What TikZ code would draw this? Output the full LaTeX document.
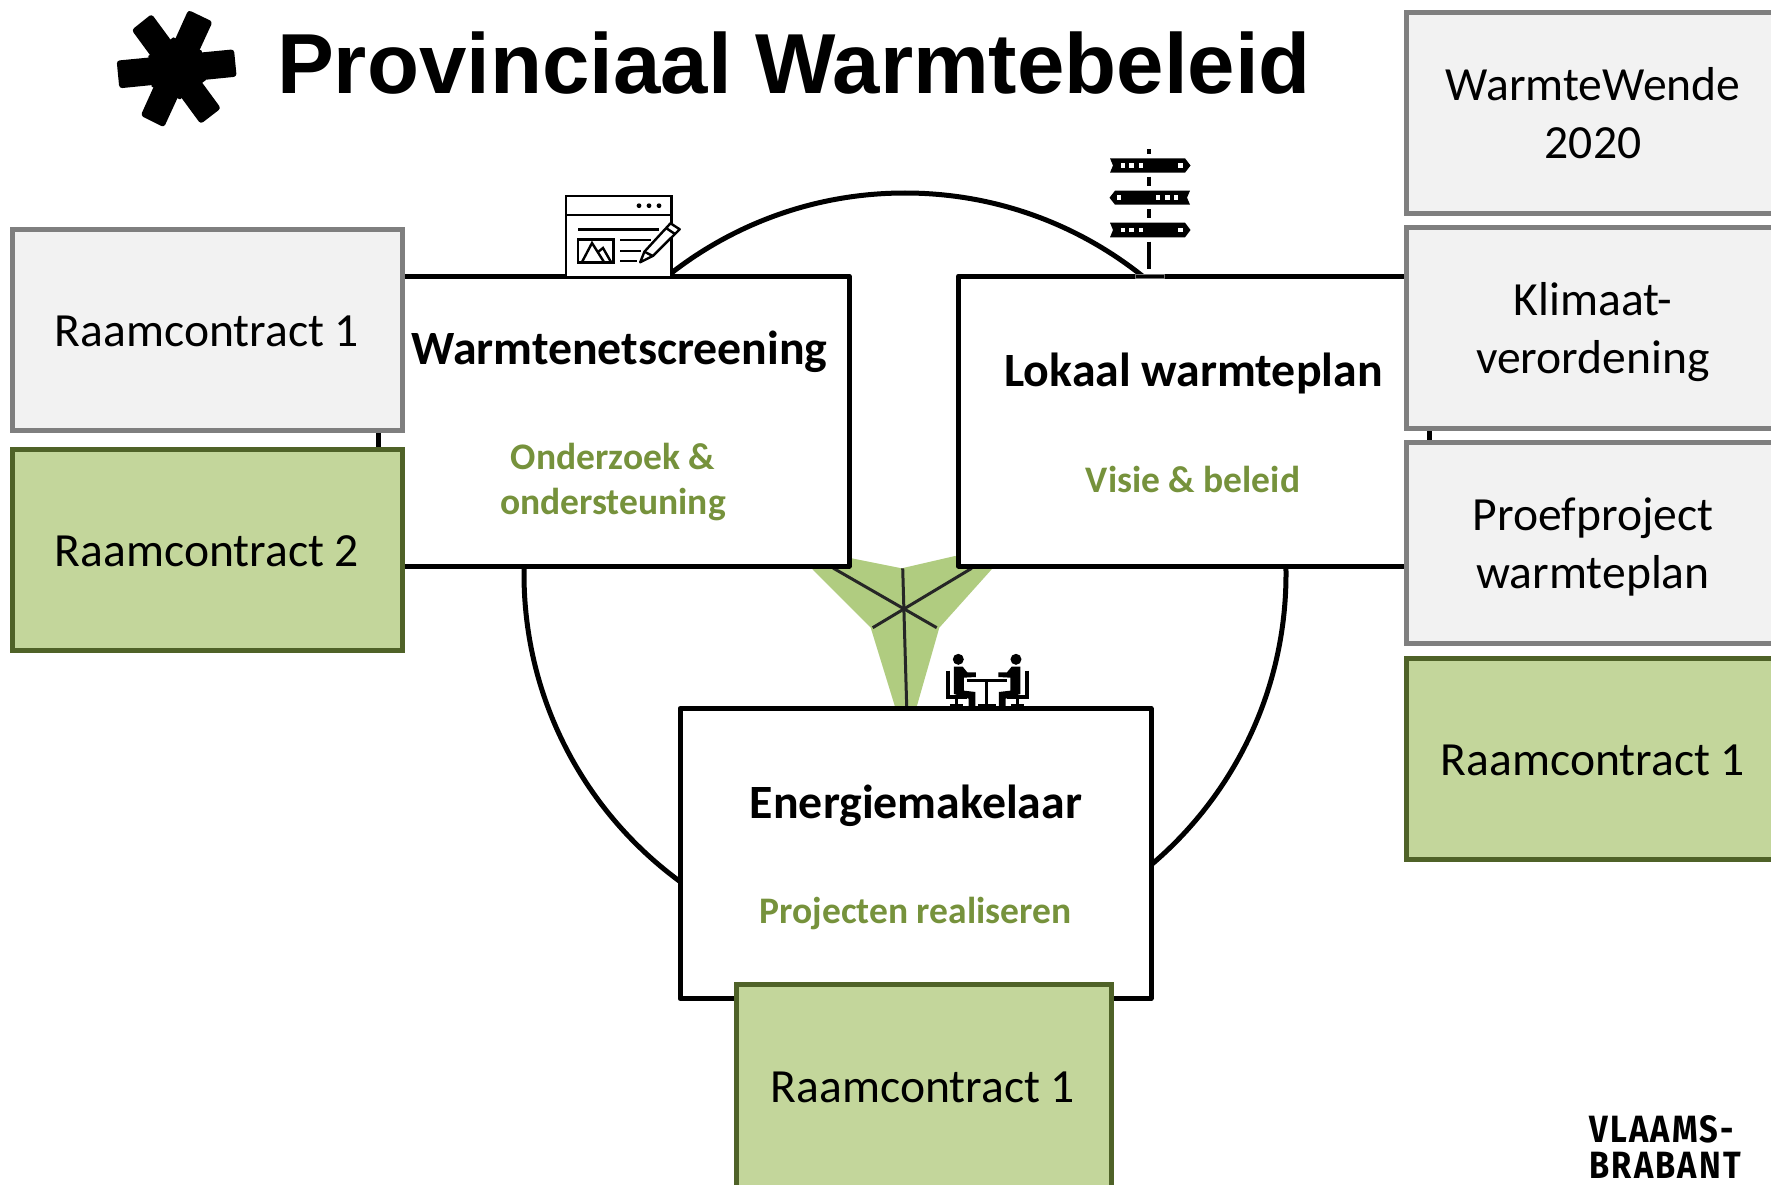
\documentclass[tikz,border=0pt]{standalone}
\usepackage{fontspec}
\setmainfont{Carlito}
\newfontfamily\titlefont{Liberation Sans}
\newfontfamily\logofont[LetterSpace=6,FakeStretch=0.86]{Fira Sans}
\definecolor{greyfill}{HTML}{F2F2F2}
\definecolor{greyline}{HTML}{7F7F7F}
\definecolor{greenfill}{HTML}{C3D69B}
\definecolor{greenline}{HTML}{4F6228}
\definecolor{greentext}{HTML}{76923C}
\definecolor{starfill}{HTML}{B0CC80}
\tikzset{
  whitebox/.style={draw=black,fill=white,line width=5pt,rectangle,minimum width=471pt,minimum height=290pt,inner sep=0pt,line join=round},
  labelbox/.style={rectangle,line width=5pt,minimum width=390pt,minimum height=201pt,inner sep=0pt},
  greybox/.style={labelbox,draw=greyline,fill=greyfill},
  greenbox/.style={labelbox,draw=greenline,fill=greenfill},
  boxtext/.style={inner sep=0pt,align=center,font=\fontsize{47.6}{58}\selectfont},
  headline/.style={inner sep=0pt,font=\fontsize{47.8}{48}\selectfont\bfseries},
  subline/.style={inner sep=0pt,align=center,text=greentext,font=\fontsize{37.5}{45}\selectfont\bfseries},
}
\begin{document}
\begin{tikzpicture}[x=1pt,y=-1pt]
\useasboundingbox (0,0) rectangle (1771,1185);
\clip (0,0) rectangle (1771,1185);
\fill[white] (0,0) rectangle (1771,1185);
% big circle
\coordinate (circ) at (905,574);
\draw[line width=5pt] (circ) circle[radius=381pt];
% centre star
\fill[starfill] (851.7,558.3) -- (901.7,568.3) -- (955,556) -- (991.7,569.3) -- (939.3,627.7) -- (916.7,706.7) -- (895,706.7) -- (870.7,627.7) -- (812.3,569.3) -- cycle;
\draw[line width=3pt,black!85] (833,568) -- (936.7,627.7);
\draw[line width=3pt,black!85] (971.7,568.3) -- (872.7,627.7);
\draw[line width=3pt,black!85] (902.7,568.3) -- (906.7,706.7);
% white boxes
\node[whitebox] (screen) at (613.5,421) {};
\node[whitebox] (plan) at (1194,421) {};
\node[whitebox] (makelaar) at (915.5,853.5) {};
% titles
\node[inner sep=0pt,font=\fontsize{85.2}{88}\selectfont\titlefont\bfseries] (title) at (794,63.5) {Provinciaal Warmtebeleid};
\node[headline] (t1) at (619.5,351.5) {Warmtenetscreening};
\node[subline] (s1) at (613,482) {Onderzoek \&\\ondersteuning};
\node[headline] (t2) at (1193.5,373.5) {Lokaal warmteplan};
\node[subline] (s2) at (1193,479.5) {Visie \& beleid};
\node[headline] (t3) at (916,806) {Energiemakelaar};
\node[subline] (s3) at (915.5,913.5) {Projecten realiseren};
% left boxes
\node[greybox] (r1) at (207,330) {};
\node[boxtext] (r1t) at (207,331) {Raamcontract 1};
\node[greenbox] (r2) at (207,550) {};
\node[boxtext] (r2t) at (207,551) {Raamcontract 2};
% right boxes
\node[greybox,minimum width=374pt] (q1) at (1593,113) {};
\node[boxtext] (q1t) at (1593,113) {WarmteWende\\2020};
\node[greybox,minimum width=374pt] (q2) at (1593,328) {};
\node[boxtext] (q2t) at (1593,332.5) {Klimaat-\\verordening};
\node[greybox,minimum width=374pt] (q3) at (1593,543) {};
\node[boxtext] (q3t) at (1593,547) {Proefproject\\warmteplan};
\node[greenbox,minimum width=374pt] (q4) at (1593,759) {};
\node[boxtext] (q4t) at (1593,760) {Raamcontract 1};
% bottom box
\node[greenbox,minimum width=375pt,minimum height=240pt] (r3) at (923.5,1104) {};
\node[boxtext] (r3t) at (923,1087) {Raamcontract 1};
% logo asterisk
\begin{scope}[shift={(90,0)},x=0.3333pt,y=-0.3333pt]
\fill[rounded corners=3pt] (80,182) -- (432,148) -- (440,230) -- (88,265) -- cycle;
\fill[rounded corners=3pt] (125,90) -- (185,42) -- (393,325) -- (332,372) -- cycle;
\fill[rounded corners=3pt] (295,30) -- (368,65) -- (222,382) -- (152,347) -- cycle;
\fill (250,112) -- (335,152) -- (348,240) -- (270,298) -- (185,260) -- (175,168) -- cycle;
\end{scope}
% logo text
\node[inner sep=0pt,anchor=west,align=left,font=\fontsize{38}{36}\selectfont\logofont\bfseries] (logo) at (1589,1147) {VLAAMS-\\BRABANT};
% window icon
\begin{scope}[line width=2.4pt]
\draw[fill=white] (566,276) -- (566,196) -- (671.3,196) -- (671.3,276);
\draw (566,215) -- (671.3,215);
\foreach \px in {639,649,659} \fill (\px,205.7) circle[radius=2.4pt];
\draw (578,229.3) -- (659,229.3);
\draw (578,239.3) rectangle (613.6,262.3);
\draw (582,262) -- (592,243) -- (604,262);
\draw (598,252) -- (603,248) -- (611,262);
\draw (620,240) -- (650.7,240);
\draw (620,250.7) -- (641,250.7);
\draw (620,261) -- (637,261);
\draw[white,line width=7pt] (648,254) -- (675,226);
\draw[fill=white,line join=round] (640.2,262.3) -- (644.4,251.7) -- (670.5,223.3) -- (679.7,229.3) -- (652.8,256) -- cycle;
\draw (666,228) -- (675,234);
\draw (644.4,251.7) -- (652.8,256);
\end{scope}
% signpost icon
\draw[line width=4pt] (1149.4,149.3) -- (1149.4,154);
\draw[line width=4pt] (1149.4,176.7) -- (1149.4,186);
\draw[line width=4pt] (1149.4,209) -- (1149.4,218);
\draw[line width=4pt] (1149.4,241.7) -- (1149.4,269);
\fill (1110,158.3) -- (1185,158.3) -- (1190.5,165.5) -- (1185,172.7) -- (1110,172.7) -- (1113,165.5) -- cycle;
\fill (1190,190.7) -- (1115,190.7) -- (1109.5,197.7) -- (1115,204.7) -- (1190,204.7) -- (1187,197.7) -- cycle;
\fill (1110,222.7) -- (1185,222.7) -- (1190.5,230) -- (1185,237.3) -- (1110,237.3) -- (1113,230) -- cycle;
\foreach \py in {165.5,230} {
  \foreach \px in {1123,1131.3,1141,1180.6} \fill[white] (\px-2.2,\py-2.2) rectangle (\px+2.2,\py+2.2);
}
\foreach \px in {1119,1158,1167.5,1176} \fill[white] (\px-2.2,197.7-2.2) rectangle (\px+2.2,197.7+2.2);
\draw[line width=1pt,black!55] (1135.5,274) rectangle (1164,278.5);
% meeting icon
\begin{scope}[shift={(780,530)},x=0.3333pt,y=-0.3333pt]
\def\person{
  \fill (535,388) circle[radius=5.5pt];
  \fill[line join=round] (522,410) -- (548,410) -- (562,427) -- (588,427) -- (588,441) -- (552,443) -- (552,482) -- (586,486) -- (586,528) -- (566,528) -- (566,506) -- (522,492) -- cycle;
  \draw[line width=4pt] (503,422) -- (503,502) -- (562,502);
  \draw[line width=3.5pt] (530,500) -- (530,525);
  \draw[line width=2.5pt] (510,526) -- (550,526);
}
\person
\begin{scope}[shift={(1243,0)},xscale=-1]
\person
\end{scope}
\draw[line width=3.5pt] (560,452) -- (682,452);
\draw[line width=3pt] (621,452) -- (621,528);
\draw[line width=2.5pt] (595,527) -- (647,527);
\end{scope}
\end{tikzpicture}
\end{document}
